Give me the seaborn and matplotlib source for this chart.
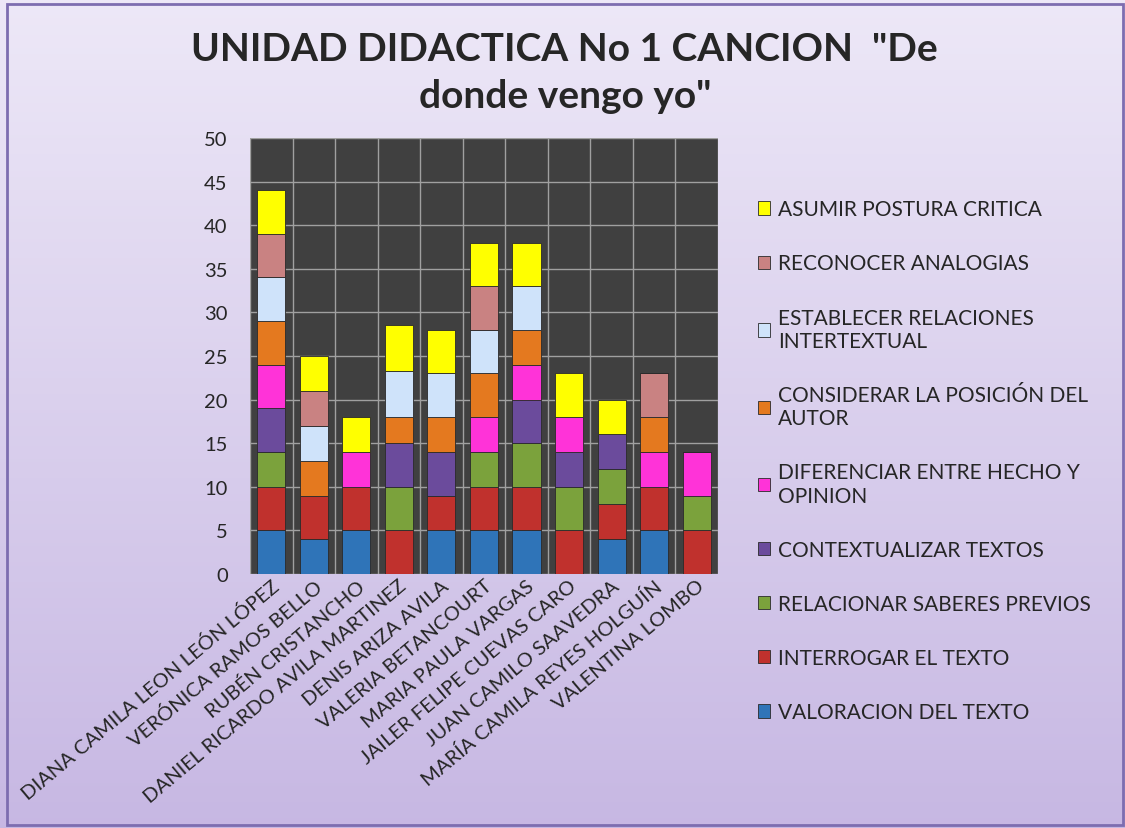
import textwrap
import numpy as np
import pandas as pd
import matplotlib
matplotlib.use("Agg")
import matplotlib.pyplot as plt
from matplotlib.patches import Rectangle
from matplotlib.ticker import MultipleLocator
import seaborn as sns

# Data
students = ["DIANA CAMILA LEON LEÓN LÓPEZ", "VERÓNICA RAMOS BELLO", "RUBÉN CRISTANCHO",
            "DANIEL RICARDO AVILA MARTINEZ", "DENIS ARIZA AVILA", "VALERIA BETANCOURT",
            "MARIA PAULA VARGAS", "JAILER FELIPE CUEVAS CARO", "JUAN CAMILO SAAVEDRA",
            "MARÍA CAMILA REYES HOLGUÍN", "VALENTINA LOMBO"]

# legend order (top to bottom); stacking goes the other way
skills = ["ASUMIR POSTURA CRITICA", "RECONOCER ANALOGIAS", "ESTABLECER RELACIONES INTERTEXTUAL",
          "CONSIDERAR LA POSICIÓN DEL AUTOR", "DIFERENCIAR ENTRE HECHO Y OPINION",
          "CONTEXTUALIZAR TEXTOS", "RELACIONAR SABERES PREVIOS", "INTERROGAR EL TEXTO",
          "VALORACION DEL TEXTO"]

asumir =         [5, 4, 4, 5.25, 5, 5, 5, 5, 4, 0, 0]
reconocer =      [5, 4, 0, 0, 0, 5, 0, 0, 0, 5, 0]
establecer =     [5, 4, 0, 5.25, 5, 5, 5, 0, 0, 0, 0]
considerar =     [5, 4, 0, 3, 4, 5, 4, 0, 0, 4, 0]
diferenciar =    [5, 0, 4, 0, 0, 4, 4, 4, 0, 4, 5]
contextualizar = [5, 0, 0, 5, 5, 0, 5, 4, 4, 0, 0]
relacionar =     [4, 0, 0, 5, 0, 4, 5, 5, 4, 0, 4]
interrogar =     [5, 5, 5, 5, 4, 5, 5, 5, 4, 5, 5]
valoracion =     [5, 4, 5, 0, 5, 5, 5, 0, 4, 5, 0]

series = [asumir, reconocer, establecer, considerar, diferenciar,
          contextualizar, relacionar, interrogar, valoracion]

colors = ["#ffff00", "#c98282", "#cfe3fa", "#e4791f", "#ff33d8",
          "#6b4b9c", "#7ba23c", "#c0312d", "#2f74b8"]

rows = []
for sk, vals in zip(skills, series):
    for st, v in zip(students, vals):
        rows.append({"Estudiante": st, "Habilidad": sk, "Valor": v})
df = pd.DataFrame(rows)

sns.set_style("white")
plt.rcParams["font.family"] = ["Lato", "DejaVu Sans"]

fig = plt.figure(figsize=(11.25, 8.29), dpi=100)

# lavender gradient background + border
bg = fig.add_axes([0, 0, 1, 1], zorder=-10)
grad = np.linspace(0, 1, 256).reshape(-1, 1)
top_c = np.array([0.93, 0.91, 0.97])
bot_c = np.array([0.78, 0.72, 0.89])
img = top_c + (bot_c - top_c) * grad[:, :, None] * np.ones((1, 2, 1))
bg.imshow(img, aspect="auto", extent=[0, 1, 0, 1])
bg.add_patch(Rectangle((0.006, 0.004), 0.992, 0.99, fill=False, edgecolor="#7d6db0", lw=2))
bg.set_xlim(0, 1)
bg.set_ylim(0, 1)
bg.axis("off")

ax = fig.add_axes([0.2222, 0.3064, 0.416, 0.526])
ax.set_facecolor("#404040")

sns.histplot(data=df, x="Estudiante", weights="Valor", hue="Habilidad",
             hue_order=skills, palette=colors, multiple="stack", discrete=True,
             shrink=0.66, alpha=1, edgecolor="#2a2a2a", linewidth=0.6, ax=ax)

ax.set_ylim(0, 50)
ax.set_xlim(-0.5, len(students) - 0.5)
ax.yaxis.set_major_locator(MultipleLocator(5))
ax.set_xticks(range(len(students)))
ax.set_xticks(np.arange(-0.5, len(students), 1), minor=True)
ax.grid(axis="y", which="major", color="#a0a0a0", lw=1)
ax.grid(axis="x", which="minor", color="#a0a0a0", lw=1)
ax.set_axisbelow(True)
ax.tick_params(axis="both", which="both", length=0)
ax.tick_params(axis="y", pad=16, labelsize=14.5, labelcolor="#262626")
ax.set_xticklabels(students, rotation=40, ha="right", rotation_mode="anchor",
                   fontsize=14.5, color="#262626")
ax.tick_params(axis="x", pad=2)
ax.set_xlabel("")
ax.set_ylabel("")
for s in ax.spines.values():
    s.set_visible(False)

# legend on the right, with wrapped labels
old = ax.get_legend()
handles = old.legend_handles
old.remove()
labels = [textwrap.fill(s, 26) for s in skills]
ax.legend(handles, labels, loc="upper left", bbox_to_anchor=(0.657, 0.781),
          bbox_transform=fig.transFigure, frameon=False, fontsize=15,
          labelspacing=1.64, handlelength=0.6, handleheight=0.6, handletextpad=0.35,
          labelcolor="#262626")

fig.text(0.502, 0.912, 'UNIDAD DIDACTICA No 1 CANCION  "De\ndonde vengo yo"',
         ha="center", va="center", fontsize=28, fontweight="bold", linespacing=1.4)

fig.savefig("out.png", dpi=100)
